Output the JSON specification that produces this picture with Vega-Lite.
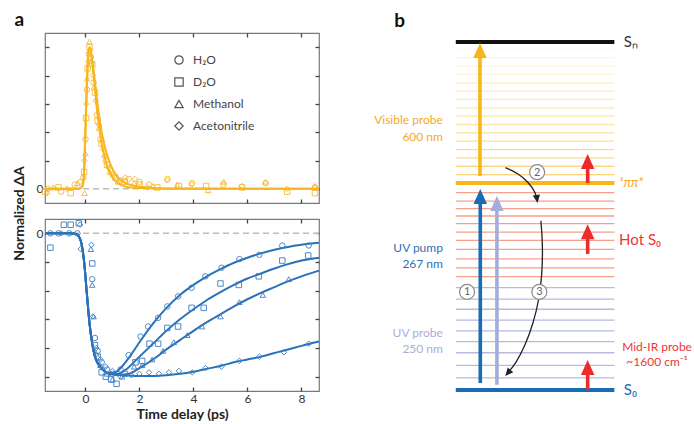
{
  "$schema": "https://vega.github.io/schema/vega-lite/v6.json",
  "background": "white",
  "padding": {"left": 11, "top": 10, "right": 0, "bottom": 0},
  "config": {
    "font": "Lato",
    "view": {"stroke": "#7a7a7a", "strokeWidth": 1.2},
    "axis": {"grid": false, "domain": false, "tickColor": "#444", "tickWidth": 1.3, "tickSize": -4, "labelFont": "Lato", "labelFontSize": 12, "labelColor": "#333", "labelPadding": 6, "titleFont": "Lato", "titleFontSize": 14, "titleFontWeight": "bold", "titleColor": "#222"},
    "title": {"fontSize": 19, "fontWeight": "bold", "anchor": "start", "frame": "bounds", "color": "#111", "baseline": "alphabetic", "offset": 2}
  },
  "spacing": 50,
  "hconcat": [
    {
      "title": {"text": "a", "dx": 3},
      "spacing": 16,
      "bounds": "flush",
      "resolve": {"scale": {"shape": "independent"}, "legend": {"shape": "independent"}},
      "vconcat": [
        {
          "width": 274,
          "height": 170,
          "resolve": {"scale": {"x": "independent", "y": "independent"}, "axis": {"x": "independent", "y": "independent"}},
          "layer": [
            {
              "data": {"values": [{"v": 0}]},
              "mark": {"type": "rule", "color": "#bdbdbd", "strokeDash": [6, 4], "strokeWidth": 1.5},
              "encoding": {"y": {"field": "v", "type": "quantitative", "scale": {"domain": [-0.1, 1.1]}, "axis": null}}
            },
            {
              "data": {"values": [
                {"curve": "A", "t": -1.5, "v": 0}, {"curve": "A", "t": -0.3, "v": 0}, {"curve": "A", "t": -0.15, "v": 0.01}, {"curve": "A", "t": -0.08, "v": 0.05}, {"curve": "A", "t": -0.04, "v": 0.2}, {"curve": "A", "t": 0, "v": 0.45}, {"curve": "A", "t": 0.05, "v": 0.75}, {"curve": "A", "t": 0.1, "v": 0.95}, {"curve": "A", "t": 0.15, "v": 1.0}, {"curve": "A", "t": 0.2, "v": 0.96}, {"curve": "A", "t": 0.3, "v": 0.8}, {"curve": "A", "t": 0.4, "v": 0.6}, {"curve": "A", "t": 0.5, "v": 0.44}, {"curve": "A", "t": 0.6, "v": 0.32}, {"curve": "A", "t": 0.7, "v": 0.23}, {"curve": "A", "t": 0.8, "v": 0.16}, {"curve": "A", "t": 1.0, "v": 0.08}, {"curve": "A", "t": 1.2, "v": 0.04}, {"curve": "A", "t": 1.5, "v": 0.015}, {"curve": "A", "t": 2, "v": 0.005}, {"curve": "A", "t": 3, "v": 0}, {"curve": "A", "t": 8.65, "v": 0},
                {"curve": "B", "t": -1.5, "v": 0}, {"curve": "B", "t": -0.3, "v": 0}, {"curve": "B", "t": -0.15, "v": 0.01}, {"curve": "B", "t": -0.08, "v": 0.04}, {"curve": "B", "t": -0.04, "v": 0.16}, {"curve": "B", "t": 0, "v": 0.4}, {"curve": "B", "t": 0.05, "v": 0.72}, {"curve": "B", "t": 0.1, "v": 0.93}, {"curve": "B", "t": 0.15, "v": 1.0}, {"curve": "B", "t": 0.2, "v": 0.97}, {"curve": "B", "t": 0.3, "v": 0.84}, {"curve": "B", "t": 0.4, "v": 0.67}, {"curve": "B", "t": 0.5, "v": 0.52}, {"curve": "B", "t": 0.6, "v": 0.4}, {"curve": "B", "t": 0.7, "v": 0.31}, {"curve": "B", "t": 0.8, "v": 0.24}, {"curve": "B", "t": 1.0, "v": 0.14}, {"curve": "B", "t": 1.2, "v": 0.08}, {"curve": "B", "t": 1.5, "v": 0.04}, {"curve": "B", "t": 2, "v": 0.015}, {"curve": "B", "t": 3, "v": 0.003}, {"curve": "B", "t": 8.65, "v": 0}
              ]},
              "mark": {"type": "line", "color": "#f8b520", "strokeWidth": 2, "interpolate": "monotone"},
              "encoding": {
                "x": {"field": "t", "type": "quantitative", "scale": {"domain": [-1.5, 8.65]}, "axis": {"orient": "bottom", "values": [0, 2, 4, 6, 8], "labels": false, "title": null}},
                "y": {"field": "v", "type": "quantitative", "scale": {"domain": [-0.1, 1.1]}, "axis": {"orient": "left", "values": [0, 0.2, 0.4, 0.6, 0.8, 1.0], "labelExpr": "datum.value === 0 ? '0' : ''", "title": "Normalized ΔA", "titleFontSize": 14, "titleY": 180, "titleX": -26, "titleAngle": -90, "titleAlign": "center", "titleBaseline": "middle"}},
                "detail": {"field": "curve", "type": "nominal"}
              }
            },
            {
              "data": {"values": [
                {"solvent": "H₂O", "t": -1.4, "v": 0.0}, {"solvent": "H₂O", "t": -0.9, "v": -0.02}, {"solvent": "H₂O", "t": -0.4, "v": 0.03}, {"solvent": "H₂O", "t": -0.08, "v": 0.08}, {"solvent": "H₂O", "t": 0.0, "v": 0.35}, {"solvent": "H₂O", "t": 0.05, "v": 0.7}, {"solvent": "H₂O", "t": 0.12, "v": 0.95}, {"solvent": "H₂O", "t": 0.2, "v": 0.93}, {"solvent": "H₂O", "t": 0.3, "v": 0.75}, {"solvent": "H₂O", "t": 0.42, "v": 0.52}, {"solvent": "H₂O", "t": 0.55, "v": 0.35}, {"solvent": "H₂O", "t": 0.75, "v": 0.2}, {"solvent": "H₂O", "t": 1.0, "v": 0.1}, {"solvent": "H₂O", "t": 1.3, "v": 0.06}, {"solvent": "H₂O", "t": 1.6, "v": 0.07}, {"solvent": "H₂O", "t": 2.0, "v": 0.05}, {"solvent": "H₂O", "t": 2.35, "v": 0.03}, {"solvent": "H₂O", "t": 3.03, "v": 0.07}, {"solvent": "H₂O", "t": 3.95, "v": 0.04}, {"solvent": "H₂O", "t": 5.1, "v": 0.03}, {"solvent": "H₂O", "t": 6.67, "v": 0.04}, {"solvent": "H₂O", "t": 8.5, "v": 0.01},
                {"solvent": "D₂O", "t": -1.5, "v": -0.02}, {"solvent": "D₂O", "t": -1.0, "v": 0.01}, {"solvent": "D₂O", "t": -0.55, "v": -0.03}, {"solvent": "D₂O", "t": -0.05, "v": 0.12}, {"solvent": "D₂O", "t": 0.02, "v": 0.5}, {"solvent": "D₂O", "t": 0.08, "v": 0.85}, {"solvent": "D₂O", "t": 0.15, "v": 1.0}, {"solvent": "D₂O", "t": 0.25, "v": 0.88}, {"solvent": "D₂O", "t": 0.35, "v": 0.68}, {"solvent": "D₂O", "t": 0.45, "v": 0.48}, {"solvent": "D₂O", "t": 0.6, "v": 0.32}, {"solvent": "D₂O", "t": 0.8, "v": 0.17}, {"solvent": "D₂O", "t": 1.1, "v": 0.08}, {"solvent": "D₂O", "t": 1.45, "v": 0.05}, {"solvent": "D₂O", "t": 2.0, "v": 0.03}, {"solvent": "D₂O", "t": 2.66, "v": 0.01}, {"solvent": "D₂O", "t": 3.46, "v": 0.02}, {"solvent": "D₂O", "t": 4.47, "v": 0.02}, {"solvent": "D₂O", "t": 5.8, "v": 0.01}, {"solvent": "D₂O", "t": 7.47, "v": -0.02}, {"solvent": "D₂O", "t": 8.5, "v": -0.03},
                {"solvent": "Methanol", "t": -1.2, "v": 0.01}, {"solvent": "Methanol", "t": -0.3, "v": 0.04}, {"solvent": "Methanol", "t": -0.03, "v": -0.03}, {"solvent": "Methanol", "t": 0.0, "v": 0.25}, {"solvent": "Methanol", "t": 0.06, "v": 0.78}, {"solvent": "Methanol", "t": 0.15, "v": 1.04}, {"solvent": "Methanol", "t": 0.22, "v": 0.9}, {"solvent": "Methanol", "t": 0.32, "v": 0.72}, {"solvent": "Methanol", "t": 0.5, "v": 0.43}, {"solvent": "Methanol", "t": 0.7, "v": 0.24}, {"solvent": "Methanol", "t": 0.9, "v": 0.12}, {"solvent": "Methanol", "t": 1.2, "v": 0.05}, {"solvent": "Methanol", "t": 1.8, "v": 0.04}, {"solvent": "Methanol", "t": 2.5, "v": 0.02}, {"solvent": "Methanol", "t": 3.4, "v": 0.03}, {"solvent": "Methanol", "t": 4.54, "v": -0.01}, {"solvent": "Methanol", "t": 5.12, "v": 0.05}, {"solvent": "Methanol", "t": 6.67, "v": 0.05}, {"solvent": "Methanol", "t": 8.5, "v": 0.02},
                {"solvent": "Acetonitrile", "t": -1.42, "v": -0.03}, {"solvent": "Acetonitrile", "t": -0.68, "v": 0.0}, {"solvent": "Acetonitrile", "t": -0.2, "v": 0.05}, {"solvent": "Acetonitrile", "t": -0.04, "v": 0.2}, {"solvent": "Acetonitrile", "t": 0.03, "v": 0.6}, {"solvent": "Acetonitrile", "t": 0.1, "v": 0.9}, {"solvent": "Acetonitrile", "t": 0.18, "v": 0.98}, {"solvent": "Acetonitrile", "t": 0.27, "v": 0.8}, {"solvent": "Acetonitrile", "t": 0.38, "v": 0.62}, {"solvent": "Acetonitrile", "t": 0.5, "v": 0.45}, {"solvent": "Acetonitrile", "t": 0.65, "v": 0.28}, {"solvent": "Acetonitrile", "t": 0.85, "v": 0.15}, {"solvent": "Acetonitrile", "t": 1.1, "v": 0.09}, {"solvent": "Acetonitrile", "t": 1.48, "v": 0.08}, {"solvent": "Acetonitrile", "t": 1.83, "v": 0.07}, {"solvent": "Acetonitrile", "t": 2.3, "v": 0.01}, {"solvent": "Acetonitrile", "t": 3.03, "v": 0.06}, {"solvent": "Acetonitrile", "t": 3.93, "v": 0.03}, {"solvent": "Acetonitrile", "t": 5.8, "v": 0.02}, {"solvent": "Acetonitrile", "t": 7.47, "v": 0.0}, {"solvent": "Acetonitrile", "t": 8.5, "v": 0.01}
              ]},
              "mark": {"type": "point", "filled": false, "color": "#f8b520", "size": 30, "strokeWidth": 1, "opacity": 0.85},
              "encoding": {
                "x": {"field": "t", "type": "quantitative", "scale": {"domain": [-1.5, 8.65]}, "axis": {"orient": "top", "values": [0, 2, 4, 6, 8], "labels": false, "title": null}},
                "y": {"field": "v", "type": "quantitative", "scale": {"domain": [-0.1, 1.1]}, "axis": {"orient": "right", "values": [0, 0.2, 0.4, 0.6, 0.8, 1.0], "labels": false, "title": null}},
                "shape": {"field": "solvent", "type": "nominal", "scale": {"domain": ["H₂O", "D₂O", "Methanol", "Acetonitrile"], "range": ["circle", "square", "triangle-up", "diamond"]}, "legend": {"orient": "none", "legendX": 128, "legendY": 21, "title": null, "labelFont": "Lato", "labelFontSize": 12, "labelColor": "#444", "symbolStrokeColor": "#555", "symbolFillColor": "transparent", "symbolSize": 70, "symbolStrokeWidth": 1.2, "symbolOpacity": 1, "rowPadding": 8, "labelOffset": 8}}
              }
            }
          ]
        },
        {
          "width": 274,
          "height": 172,
          "resolve": {"scale": {"x": "independent", "y": "independent"}, "axis": {"x": "independent", "y": "independent"}},
          "layer": [
            {
              "data": {"values": [{"v": 0}]},
              "mark": {"type": "rule", "color": "#bdbdbd", "strokeDash": [6, 4], "strokeWidth": 1.5},
              "encoding": {"y": {"field": "v", "type": "quantitative", "scale": {"domain": [-1.1, 0.1]}, "axis": null}}
            },
            {
              "data": {"values": [
                {"curve": "H₂O", "t": -1.5, "v": 0}, {"curve": "H₂O", "t": -0.6, "v": 0}, {"curve": "H₂O", "t": -0.35, "v": -0.005}, {"curve": "H₂O", "t": -0.25, "v": -0.02}, {"curve": "H₂O", "t": -0.15, "v": -0.07}, {"curve": "H₂O", "t": -0.05, "v": -0.2}, {"curve": "H₂O", "t": 0.05, "v": -0.42}, {"curve": "H₂O", "t": 0.15, "v": -0.63}, {"curve": "H₂O", "t": 0.25, "v": -0.77}, {"curve": "H₂O", "t": 0.35, "v": -0.86}, {"curve": "H₂O", "t": 0.5, "v": -0.92}, {"curve": "H₂O", "t": 0.7, "v": -0.96}, {"curve": "H₂O", "t": 0.9, "v": -0.975}, {"curve": "H₂O", "t": 1.1, "v": -0.97}, {"curve": "H₂O", "t": 1.3, "v": -0.94}, {"curve": "H₂O", "t": 1.6, "v": -0.87}, {"curve": "H₂O", "t": 2.0, "v": -0.76}, {"curve": "H₂O", "t": 2.5, "v": -0.63}, {"curve": "H₂O", "t": 3.0, "v": -0.52}, {"curve": "H₂O", "t": 3.5, "v": -0.43}, {"curve": "H₂O", "t": 4.0, "v": -0.36}, {"curve": "H₂O", "t": 4.5, "v": -0.3}, {"curve": "H₂O", "t": 5.0, "v": -0.25}, {"curve": "H₂O", "t": 5.5, "v": -0.205}, {"curve": "H₂O", "t": 6.0, "v": -0.17}, {"curve": "H₂O", "t": 6.5, "v": -0.14}, {"curve": "H₂O", "t": 7.0, "v": -0.115}, {"curve": "H₂O", "t": 7.5, "v": -0.095}, {"curve": "H₂O", "t": 8.0, "v": -0.08}, {"curve": "H₂O", "t": 8.65, "v": -0.066},
                {"curve": "D₂O", "t": -1.5, "v": 0}, {"curve": "D₂O", "t": -0.6, "v": 0}, {"curve": "D₂O", "t": -0.35, "v": -0.005}, {"curve": "D₂O", "t": -0.25, "v": -0.02}, {"curve": "D₂O", "t": -0.15, "v": -0.07}, {"curve": "D₂O", "t": -0.05, "v": -0.2}, {"curve": "D₂O", "t": 0.05, "v": -0.42}, {"curve": "D₂O", "t": 0.15, "v": -0.63}, {"curve": "D₂O", "t": 0.25, "v": -0.77}, {"curve": "D₂O", "t": 0.35, "v": -0.86}, {"curve": "D₂O", "t": 0.5, "v": -0.92}, {"curve": "D₂O", "t": 0.7, "v": -0.96}, {"curve": "D₂O", "t": 0.9, "v": -0.98}, {"curve": "D₂O", "t": 1.2, "v": -0.98}, {"curve": "D₂O", "t": 1.5, "v": -0.95}, {"curve": "D₂O", "t": 2.0, "v": -0.86}, {"curve": "D₂O", "t": 2.5, "v": -0.77}, {"curve": "D₂O", "t": 3.0, "v": -0.68}, {"curve": "D₂O", "t": 3.5, "v": -0.6}, {"curve": "D₂O", "t": 4.0, "v": -0.53}, {"curve": "D₂O", "t": 4.5, "v": -0.465}, {"curve": "D₂O", "t": 5.0, "v": -0.41}, {"curve": "D₂O", "t": 5.5, "v": -0.36}, {"curve": "D₂O", "t": 6.0, "v": -0.315}, {"curve": "D₂O", "t": 6.5, "v": -0.28}, {"curve": "D₂O", "t": 7.0, "v": -0.245}, {"curve": "D₂O", "t": 7.5, "v": -0.215}, {"curve": "D₂O", "t": 8.0, "v": -0.19}, {"curve": "D₂O", "t": 8.65, "v": -0.17},
                {"curve": "Methanol", "t": -1.5, "v": 0}, {"curve": "Methanol", "t": -0.6, "v": 0}, {"curve": "Methanol", "t": -0.35, "v": -0.005}, {"curve": "Methanol", "t": -0.25, "v": -0.02}, {"curve": "Methanol", "t": -0.15, "v": -0.07}, {"curve": "Methanol", "t": -0.05, "v": -0.2}, {"curve": "Methanol", "t": 0.05, "v": -0.42}, {"curve": "Methanol", "t": 0.15, "v": -0.63}, {"curve": "Methanol", "t": 0.25, "v": -0.77}, {"curve": "Methanol", "t": 0.35, "v": -0.86}, {"curve": "Methanol", "t": 0.5, "v": -0.92}, {"curve": "Methanol", "t": 0.7, "v": -0.96}, {"curve": "Methanol", "t": 0.9, "v": -0.98}, {"curve": "Methanol", "t": 1.2, "v": -0.99}, {"curve": "Methanol", "t": 1.6, "v": -0.98}, {"curve": "Methanol", "t": 2.0, "v": -0.94}, {"curve": "Methanol", "t": 2.5, "v": -0.88}, {"curve": "Methanol", "t": 3.0, "v": -0.81}, {"curve": "Methanol", "t": 3.5, "v": -0.745}, {"curve": "Methanol", "t": 4.0, "v": -0.68}, {"curve": "Methanol", "t": 4.5, "v": -0.62}, {"curve": "Methanol", "t": 5.0, "v": -0.565}, {"curve": "Methanol", "t": 5.5, "v": -0.51}, {"curve": "Methanol", "t": 6.0, "v": -0.46}, {"curve": "Methanol", "t": 6.5, "v": -0.415}, {"curve": "Methanol", "t": 7.0, "v": -0.375}, {"curve": "Methanol", "t": 7.5, "v": -0.335}, {"curve": "Methanol", "t": 8.0, "v": -0.3}, {"curve": "Methanol", "t": 8.65, "v": -0.26},
                {"curve": "Acetonitrile", "t": -1.5, "v": 0}, {"curve": "Acetonitrile", "t": -0.6, "v": 0}, {"curve": "Acetonitrile", "t": -0.35, "v": -0.005}, {"curve": "Acetonitrile", "t": -0.25, "v": -0.02}, {"curve": "Acetonitrile", "t": -0.15, "v": -0.07}, {"curve": "Acetonitrile", "t": -0.05, "v": -0.2}, {"curve": "Acetonitrile", "t": 0.05, "v": -0.42}, {"curve": "Acetonitrile", "t": 0.15, "v": -0.63}, {"curve": "Acetonitrile", "t": 0.25, "v": -0.77}, {"curve": "Acetonitrile", "t": 0.35, "v": -0.86}, {"curve": "Acetonitrile", "t": 0.5, "v": -0.92}, {"curve": "Acetonitrile", "t": 0.7, "v": -0.96}, {"curve": "Acetonitrile", "t": 0.9, "v": -0.98}, {"curve": "Acetonitrile", "t": 1.5, "v": -0.99}, {"curve": "Acetonitrile", "t": 2.0, "v": -0.995}, {"curve": "Acetonitrile", "t": 2.5, "v": -0.995}, {"curve": "Acetonitrile", "t": 3.0, "v": -0.99}, {"curve": "Acetonitrile", "t": 3.5, "v": -0.98}, {"curve": "Acetonitrile", "t": 4.0, "v": -0.965}, {"curve": "Acetonitrile", "t": 4.5, "v": -0.945}, {"curve": "Acetonitrile", "t": 5.0, "v": -0.925}, {"curve": "Acetonitrile", "t": 5.5, "v": -0.9}, {"curve": "Acetonitrile", "t": 6.0, "v": -0.88}, {"curve": "Acetonitrile", "t": 6.5, "v": -0.86}, {"curve": "Acetonitrile", "t": 7.0, "v": -0.835}, {"curve": "Acetonitrile", "t": 7.5, "v": -0.81}, {"curve": "Acetonitrile", "t": 8.0, "v": -0.785}, {"curve": "Acetonitrile", "t": 8.65, "v": -0.755}
              ]},
              "mark": {"type": "line", "color": "#2a72b8", "strokeWidth": 2, "interpolate": "monotone"},
              "encoding": {
                "x": {"field": "t", "type": "quantitative", "scale": {"domain": [-1.5, 8.65]}, "axis": {"orient": "bottom", "values": [0, 2, 4, 6, 8], "title": "Time delay (ps)", "titlePadding": 3}},
                "y": {"field": "v", "type": "quantitative", "scale": {"domain": [-1.1, 0.1]}, "axis": {"orient": "left", "values": [0, -0.2, -0.4, -0.6, -0.8, -1.0], "labelExpr": "datum.value === 0 ? '0' : ''", "title": null}},
                "detail": {"field": "curve", "type": "nominal"}
              }
            },
            {
              "data": {"values": [
                {"solvent": "H₂O", "t": -1.3, "v": 0.0}, {"solvent": "H₂O", "t": -1.0, "v": 0.0}, {"solvent": "H₂O", "t": -0.6, "v": 0.0}, {"solvent": "H₂O", "t": -0.3, "v": 0.0}, {"solvent": "H₂O", "t": 0.25, "v": -0.32}, {"solvent": "H₂O", "t": 0.35, "v": -0.73}, {"solvent": "H₂O", "t": 0.45, "v": -0.82}, {"solvent": "H₂O", "t": 0.6, "v": -0.9}, {"solvent": "H₂O", "t": 0.8, "v": -0.95}, {"solvent": "H₂O", "t": 1.0, "v": -0.98}, {"solvent": "H₂O", "t": 1.3, "v": -0.95}, {"solvent": "H₂O", "t": 1.6, "v": -0.85}, {"solvent": "H₂O", "t": 2.04, "v": -0.72}, {"solvent": "H₂O", "t": 2.32, "v": -0.65}, {"solvent": "H₂O", "t": 2.69, "v": -0.59}, {"solvent": "H₂O", "t": 3.03, "v": -0.51}, {"solvent": "H₂O", "t": 3.43, "v": -0.44}, {"solvent": "H₂O", "t": 3.93, "v": -0.38}, {"solvent": "H₂O", "t": 4.44, "v": -0.3}, {"solvent": "H₂O", "t": 5.04, "v": -0.24}, {"solvent": "H₂O", "t": 5.7, "v": -0.18}, {"solvent": "H₂O", "t": 6.44, "v": -0.15}, {"solvent": "H₂O", "t": 7.29, "v": -0.085}, {"solvent": "H₂O", "t": 8.27, "v": -0.085},
                {"solvent": "D₂O", "t": -1.3, "v": -0.1}, {"solvent": "D₂O", "t": -0.8, "v": 0.06}, {"solvent": "D₂O", "t": -0.55, "v": 0.06}, {"solvent": "D₂O", "t": -0.25, "v": 0.07}, {"solvent": "D₂O", "t": 0.25, "v": -0.21}, {"solvent": "D₂O", "t": 0.35, "v": -0.78}, {"solvent": "D₂O", "t": 0.45, "v": -0.86}, {"solvent": "D₂O", "t": 0.6, "v": -0.97}, {"solvent": "D₂O", "t": 0.75, "v": -1.0}, {"solvent": "D₂O", "t": 0.95, "v": -1.02}, {"solvent": "D₂O", "t": 1.15, "v": -1.05}, {"solvent": "D₂O", "t": 1.45, "v": -0.98}, {"solvent": "D₂O", "t": 1.85, "v": -0.9}, {"solvent": "D₂O", "t": 2.1, "v": -0.89}, {"solvent": "D₂O", "t": 2.37, "v": -0.77}, {"solvent": "D₂O", "t": 2.69, "v": -0.77}, {"solvent": "D₂O", "t": 3.03, "v": -0.66}, {"solvent": "D₂O", "t": 3.43, "v": -0.65}, {"solvent": "D₂O", "t": 3.93, "v": -0.52}, {"solvent": "D₂O", "t": 4.38, "v": -0.52}, {"solvent": "D₂O", "t": 5.0, "v": -0.35}, {"solvent": "D₂O", "t": 5.68, "v": -0.36}, {"solvent": "D₂O", "t": 6.42, "v": -0.3}, {"solvent": "D₂O", "t": 7.29, "v": -0.19}, {"solvent": "D₂O", "t": 8.25, "v": -0.155},
                {"solvent": "Methanol", "t": 0.2, "v": -0.11}, {"solvent": "Methanol", "t": 0.25, "v": -0.36}, {"solvent": "Methanol", "t": 0.3, "v": -0.58}, {"solvent": "Methanol", "t": 0.4, "v": -0.84}, {"solvent": "Methanol", "t": 0.55, "v": -0.92}, {"solvent": "Methanol", "t": 0.8, "v": -0.98}, {"solvent": "Methanol", "t": 1.0, "v": -1.02}, {"solvent": "Methanol", "t": 1.35, "v": -1.0}, {"solvent": "Methanol", "t": 1.8, "v": -0.93}, {"solvent": "Methanol", "t": 2.1, "v": -0.92}, {"solvent": "Methanol", "t": 2.47, "v": -0.88}, {"solvent": "Methanol", "t": 2.87, "v": -0.82}, {"solvent": "Methanol", "t": 3.27, "v": -0.76}, {"solvent": "Methanol", "t": 3.77, "v": -0.71}, {"solvent": "Methanol", "t": 4.32, "v": -0.65}, {"solvent": "Methanol", "t": 5.0, "v": -0.58}, {"solvent": "Methanol", "t": 5.7, "v": -0.48}, {"solvent": "Methanol", "t": 6.57, "v": -0.43}, {"solvent": "Methanol", "t": 7.53, "v": -0.32},
                {"solvent": "Acetonitrile", "t": -0.9, "v": 0.0}, {"solvent": "Acetonitrile", "t": -0.2, "v": 0.06}, {"solvent": "Acetonitrile", "t": -0.18, "v": -0.11}, {"solvent": "Acetonitrile", "t": 0.22, "v": -0.08}, {"solvent": "Acetonitrile", "t": 0.27, "v": -0.58}, {"solvent": "Acetonitrile", "t": 0.4, "v": -0.8}, {"solvent": "Acetonitrile", "t": 0.55, "v": -0.88}, {"solvent": "Acetonitrile", "t": 0.75, "v": -0.93}, {"solvent": "Acetonitrile", "t": 1.0, "v": -0.96}, {"solvent": "Acetonitrile", "t": 1.3, "v": -1.0}, {"solvent": "Acetonitrile", "t": 1.7, "v": -0.99}, {"solvent": "Acetonitrile", "t": 2.0, "v": -0.98}, {"solvent": "Acetonitrile", "t": 2.35, "v": -0.97}, {"solvent": "Acetonitrile", "t": 2.72, "v": -0.98}, {"solvent": "Acetonitrile", "t": 3.09, "v": -0.97}, {"solvent": "Acetonitrile", "t": 3.46, "v": -0.96}, {"solvent": "Acetonitrile", "t": 3.95, "v": -0.97}, {"solvent": "Acetonitrile", "t": 4.44, "v": -0.94}, {"solvent": "Acetonitrile", "t": 5.04, "v": -0.93}, {"solvent": "Acetonitrile", "t": 5.7, "v": -0.89}, {"solvent": "Acetonitrile", "t": 6.44, "v": -0.86}, {"solvent": "Acetonitrile", "t": 7.35, "v": -0.83}, {"solvent": "Acetonitrile", "t": 8.27, "v": -0.77}
              ]},
              "mark": {"type": "point", "filled": false, "color": "#3d7dc2", "size": 30, "strokeWidth": 1, "opacity": 0.9},
              "encoding": {
                "x": {"field": "t", "type": "quantitative", "scale": {"domain": [-1.5, 8.65]}, "axis": {"orient": "top", "values": [0, 2, 4, 6, 8], "labels": false, "title": null}},
                "y": {"field": "v", "type": "quantitative", "scale": {"domain": [-1.1, 0.1]}, "axis": {"orient": "right", "values": [0, -0.2, -0.4, -0.6, -0.8, -1.0], "labels": false, "title": null}},
                "shape": {"field": "solvent", "type": "nominal", "scale": {"domain": ["H₂O", "D₂O", "Methanol", "Acetonitrile"], "range": ["circle", "square", "triangle-up", "diamond"]}, "legend": null}
              }
            }
          ]
        }
      ]
    },
    {
      "title": {"text": "b", "dx": 20},
      "width": 314,
      "height": 357,
      "view": {"stroke": null},
      "resolve": {"scale": {"color": "independent", "opacity": "independent"}},
      "layer": [
        {
          "data": {"values": [{"e": 6.19}, {"e": 6.43}, {"e": 6.67}, {"e": 6.91}, {"e": 7.15}, {"e": 7.39}, {"e": 7.63}, {"e": 7.87}, {"e": 8.11}, {"e": 8.35}, {"e": 8.59}, {"e": 8.83}, {"e": 9.07}, {"e": 9.31}, {"e": 9.55}, {"e": 9.79}]},
          "mark": {"type": "rule", "color": "#fbc23c", "strokeWidth": 1.3},
          "encoding": {
            "x": {"datum": 23.5, "type": "quantitative", "scale": {"domain": [0, 100]}, "axis": null},
            "x2": {"datum": 74},
            "y": {"field": "e", "type": "quantitative", "scale": {"domain": [0, 10.26]}, "axis": null},
            "opacity": {"field": "e", "type": "quantitative", "scale": {"domain": [6.19, 9.79], "range": [0.7, 0.1]}, "legend": null}
          }
        },
        {
          "data": {"values": [{"e": 5.67}, {"e": 5.43}, {"e": 5.21}, {"e": 5.0}, {"e": 4.78}, {"e": 4.54}, {"e": 4.3}, {"e": 4.04}, {"e": 3.77}, {"e": 3.51}, {"e": 3.26}]},
          "mark": {"type": "rule", "color": "#f5a08a", "strokeWidth": 1.3},
          "encoding": {
            "x": {"datum": 23.5, "type": "quantitative", "scale": {"domain": [0, 100]}, "axis": null},
            "x2": {"datum": 74},
            "y": {"field": "e", "type": "quantitative", "scale": {"domain": [0, 10.26]}, "axis": null}
          }
        },
        {
          "data": {"values": [{"e": 2.94}, {"e": 2.61}, {"e": 2.32}, {"e": 2.01}, {"e": 1.7}, {"e": 1.39}, {"e": 1.07}, {"e": 0.71}, {"e": 0.35}]},
          "mark": {"type": "rule", "color": "#b6badf", "strokeWidth": 1.3},
          "encoding": {
            "x": {"datum": 23.5, "type": "quantitative", "scale": {"domain": [0, 100]}, "axis": null},
            "x2": {"datum": 74},
            "y": {"field": "e", "type": "quantitative", "scale": {"domain": [0, 10.26]}, "axis": null}
          }
        },
        {
          "data": {"values": [{"level": "Sn", "e": 10}, {"level": "pipi", "e": 5.95}, {"level": "S0", "e": 0}]},
          "mark": {"type": "rule", "strokeWidth": 4},
          "encoding": {
            "x": {"datum": 23.5, "type": "quantitative", "scale": {"domain": [0, 100]}, "axis": null},
            "x2": {"datum": 74},
            "y": {"field": "e", "type": "quantitative", "scale": {"domain": [0, 10.26]}, "axis": null},
            "color": {"field": "level", "type": "nominal", "scale": {"domain": ["Sn", "pipi", "S0"], "range": ["#111111", "#f9b61a", "#1a6cb4"]}, "legend": null}
          }
        },
        {
          "data": {"values": [
            {"beam": "visible", "x": 31.2, "e0": 6.15, "e1": 9.75},
            {"beam": "pump", "x": 31.3, "e0": 0.2, "e1": 5.6},
            {"beam": "uvprobe", "x": 36.6, "e0": 0.15, "e1": 5.4},
            {"beam": "ir", "x": 65.5, "e0": 5.95, "e1": 6.6},
            {"beam": "ir", "x": 65.5, "e0": 3.91, "e1": 4.6},
            {"beam": "ir", "x": 65.5, "e0": 0.0, "e1": 0.7}
          ]},
          "mark": {"type": "rule", "strokeWidth": 3.6},
          "encoding": {
            "x": {"field": "x", "type": "quantitative", "scale": {"domain": [0, 100]}, "axis": null},
            "y": {"field": "e0", "type": "quantitative", "scale": {"domain": [0, 10.26]}, "axis": null},
            "y2": {"field": "e1"},
            "color": {"field": "beam", "type": "nominal", "scale": {"domain": ["visible", "pump", "uvprobe", "ir"], "range": ["#f9b61a", "#1a6cb4", "#a4acda", "#ee2b2b"]}, "legend": null}
          }
        },
        {
          "data": {"values": [
            {"beam": "visible", "x": 31.2, "e": 9.76},
            {"beam": "pump", "x": 31.3, "e": 5.56},
            {"beam": "uvprobe", "x": 36.6, "e": 5.36},
            {"beam": "ir", "x": 65.5, "e": 6.57},
            {"beam": "ir", "x": 65.5, "e": 4.55},
            {"beam": "ir", "x": 65.5, "e": 0.65}
          ]},
          "mark": {"type": "point", "shape": "M0,-1L-0.9,1L0.9,1Z", "filled": true, "size": 225, "opacity": 1},
          "encoding": {
            "x": {"field": "x", "type": "quantitative", "scale": {"domain": [0, 100]}, "axis": null},
            "y": {"field": "e", "type": "quantitative", "scale": {"domain": [0, 10.26]}, "axis": null},
            "color": {"field": "beam", "type": "nominal", "scale": {"domain": ["visible", "pump", "uvprobe", "ir"], "range": ["#f9b61a", "#1a6cb4", "#a4acda", "#ee2b2b"]}, "legend": null}
          }
        },
        {
          "data": {"values": [
            {"path": "ic", "i": 1, "x": 39.3, "e": 6.39}, {"path": "ic", "i": 2, "x": 43.5, "e": 6.22}, {"path": "ic", "i": 3, "x": 46.6, "e": 5.97}, {"path": "ic", "i": 4, "x": 48.6, "e": 5.72}, {"path": "ic", "i": 5, "x": 49.3, "e": 5.52},
            {"path": "vc", "i": 1, "x": 50.6, "e": 4.86}, {"path": "vc", "i": 2, "x": 51.2, "e": 4.23}, {"path": "vc", "i": 3, "x": 51.0, "e": 3.3}, {"path": "vc", "i": 4, "x": 50.0, "e": 2.6}, {"path": "vc", "i": 5, "x": 48.3, "e": 1.95}, {"path": "vc", "i": 6, "x": 45.5, "e": 1.25}, {"path": "vc", "i": 7, "x": 42.5, "e": 0.75}, {"path": "vc", "i": 8, "x": 40.3, "e": 0.52}
          ]},
          "mark": {"type": "line", "color": "#222", "strokeWidth": 1.3, "interpolate": "basis"},
          "encoding": {
            "x": {"field": "x", "type": "quantitative", "scale": {"domain": [0, 100]}, "axis": null},
            "y": {"field": "e", "type": "quantitative", "scale": {"domain": [0, 10.26]}, "axis": null},
            "order": {"field": "i", "type": "quantitative"},
            "detail": {"field": "path", "type": "nominal"}
          }
        },
        {
          "data": {"values": [
            {"path": "ic", "x": 49.35, "e": 5.49, "dir": 172},
            {"path": "vc", "x": 40.1, "e": 0.49, "dir": 220}
          ]},
          "mark": {"type": "point", "shape": "M0,-1L-0.9,1L0.9,1Z", "filled": true, "size": 64, "color": "#222", "opacity": 1},
          "encoding": {
            "x": {"field": "x", "type": "quantitative", "scale": {"domain": [0, 100]}, "axis": null},
            "y": {"field": "e", "type": "quantitative", "scale": {"domain": [0, 10.26]}, "axis": null},
            "angle": {"field": "dir", "type": "quantitative", "scale": null}
          }
        },
        {
          "data": {"values": [{"n": "1", "x": 27.1, "e": 2.82}, {"n": "2", "x": 49.4, "e": 6.26}, {"n": "3", "x": 50.1, "e": 2.82}]},
          "mark": {"type": "point", "shape": "circle", "filled": true, "fill": "white", "stroke": "#888", "strokeWidth": 1.2, "size": 225, "opacity": 1},
          "encoding": {
            "x": {"field": "x", "type": "quantitative", "scale": {"domain": [0, 100]}, "axis": null},
            "y": {"field": "e", "type": "quantitative", "scale": {"domain": [0, 10.26]}, "axis": null}
          }
        },
        {
          "data": {"values": [{"n": "1", "x": 27.1, "e": 2.82}, {"n": "2", "x": 49.4, "e": 6.26}, {"n": "3", "x": 50.1, "e": 2.82}]},
          "mark": {"type": "text", "fontSize": 11, "color": "#666", "baseline": "middle", "align": "center", "dy": 0.5},
          "encoding": {
            "x": {"field": "x", "type": "quantitative", "scale": {"domain": [0, 100]}, "axis": null},
            "y": {"field": "e", "type": "quantitative", "scale": {"domain": [0, 10.26]}, "axis": null},
            "text": {"field": "n", "type": "nominal"}
          }
        },
        {
          "data": {"values": [
            {"label": "Visible probe", "beam": "visible", "e": 7.75},
            {"label": "600 nm", "beam": "visible", "e": 7.27},
            {"label": "UV pump", "beam": "pump", "e": 4.09},
            {"label": "267 nm", "beam": "pump", "e": 3.61},
            {"label": "UV probe", "beam": "uvprobe", "e": 1.65},
            {"label": "250 nm", "beam": "uvprobe", "e": 1.17}
          ]},
          "mark": {"type": "text", "fontSize": 12, "align": "right", "baseline": "middle"},
          "encoding": {
            "x": {"datum": 19.4, "type": "quantitative", "scale": {"domain": [0, 100]}, "axis": null},
            "y": {"field": "e", "type": "quantitative", "scale": {"domain": [0, 10.26]}, "axis": null},
            "text": {"field": "label", "type": "nominal"},
            "color": {"field": "beam", "type": "nominal", "scale": {"domain": ["visible", "pump", "uvprobe"], "range": ["#f6a81e", "#2a72b8", "#a8aed8"]}, "legend": null}
          }
        },
        {
          "data": {"values": [{"label": "Sₙ", "e": 10}, {"label": "S₀", "e": 0}]},
          "mark": {"type": "text", "fontSize": 15, "align": "left", "baseline": "middle"},
          "encoding": {
            "x": {"datum": 77, "type": "quantitative", "scale": {"domain": [0, 100]}, "axis": null},
            "y": {"field": "e", "type": "quantitative", "scale": {"domain": [0, 10.26]}, "axis": null},
            "text": {"field": "label", "type": "nominal"},
            "color": {"field": "label", "type": "nominal", "scale": {"domain": ["Sₙ", "S₀"], "range": ["#333333", "#1a6cb4"]}, "legend": null}
          }
        },
        {
          "data": {"values": [{"label": "¹ππ*", "e": 5.95}]},
          "mark": {"type": "text", "fontSize": 13, "fontStyle": "italic", "align": "left", "baseline": "middle", "color": "#f6a81e"},
          "encoding": {
            "x": {"datum": 75.5, "type": "quantitative", "scale": {"domain": [0, 100]}, "axis": null},
            "y": {"field": "e", "type": "quantitative", "scale": {"domain": [0, 10.26]}, "axis": null},
            "text": {"field": "label", "type": "nominal"}
          }
        },
        {
          "data": {"values": [{"label": "Hot S₀", "e": 4.32}]},
          "mark": {"type": "text", "fontSize": 15, "align": "left", "baseline": "middle", "color": "#ee3535"},
          "encoding": {
            "x": {"datum": 75.5, "type": "quantitative", "scale": {"domain": [0, 100]}, "axis": null},
            "y": {"field": "e", "type": "quantitative", "scale": {"domain": [0, 10.26]}, "axis": null},
            "text": {"field": "label", "type": "nominal"}
          }
        },
        {
          "data": {"values": [{"label": "Mid-IR probe", "e": 1.24}, {"label": "~1600 cm⁻¹", "e": 0.8}]},
          "mark": {"type": "text", "fontSize": 12, "align": "center", "baseline": "middle", "color": "#ee3535"},
          "encoding": {
            "x": {"datum": 87.6, "type": "quantitative", "scale": {"domain": [0, 100]}, "axis": null},
            "y": {"field": "e", "type": "quantitative", "scale": {"domain": [0, 10.26]}, "axis": null},
            "text": {"field": "label", "type": "nominal"}
          }
        }
      ]
    }
  ]
}
